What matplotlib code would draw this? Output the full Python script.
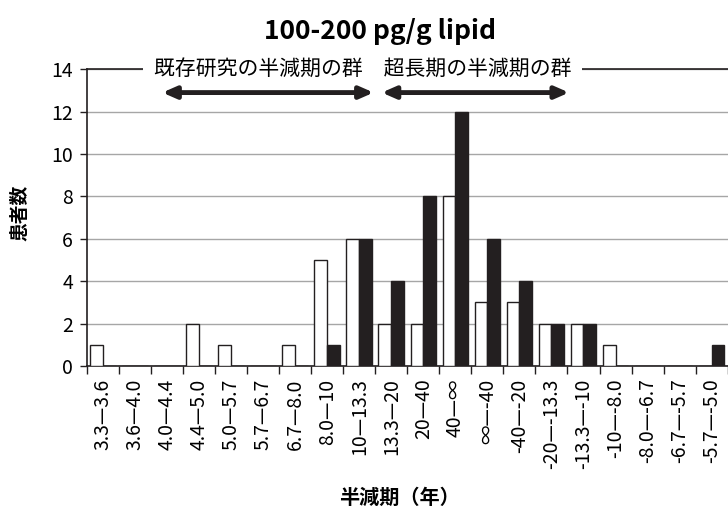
import matplotlib
matplotlib.use("Agg")
import matplotlib.pyplot as plt
import numpy as np

plt.rcParams['font.family'] = ['Noto Sans CJK JP', 'DejaVu Sans']

# half-life bins (years)
labels = ["3.3—3.6", "3.6—4.0", "4.0—4.4", "4.4—5.0", "5.0—5.7", "5.7—6.7",
          "6.7—8.0", "8.0—10", "10—13.3", "13.3—20", "20—40", "40—∞",
          "∞—-40", "-40—-20", "-20—-13.3", "-13.3—-10", "-10—-8.0",
          "-8.0—-6.7", "-6.7—-5.7", "-5.7—-5.0"]
white_counts = [1, 0, 0, 2, 1, 0, 1, 5, 6, 2, 2, 8, 3, 3, 2, 2, 1, 0, 0, 0]
black_counts = [0, 0, 0, 0, 0, 0, 0, 1, 6, 4, 8, 12, 6, 4, 2, 2, 0, 0, 0, 1]

fig = plt.figure(figsize=(7.28, 5.13), dpi=100)
ax = fig.add_axes([0.1195, 0.2865, 0.88, 0.5785])

x = np.arange(len(labels))
w = 0.4
ax.bar(x - w/2, white_counts, w, color="white", edgecolor="#231f20", linewidth=1.0, zorder=3)
ax.bar(x + w/2, black_counts, w, color="#231f20", edgecolor="#231f20", linewidth=1.0, zorder=3)

ax.set_xlim(-0.5, len(labels) - 0.5)
ax.set_ylim(0, 14)
ax.set_yticks(range(0, 15, 2))
ax.yaxis.grid(True, color="#a6a6a6", linewidth=1.0, zorder=0)
ax.set_axisbelow(True)

ax.set_xticks(x)
ax.set_xticklabels(labels, rotation=90, fontsize=14)
ax.set_xticks(np.arange(-0.5, len(labels), 1), minor=True)
ax.tick_params(axis="x", which="major", length=0, pad=9)
ax.tick_params(axis="x", which="minor", length=6, width=1.0, color="#231f20")
ax.tick_params(axis="y", labelsize=14, length=5, width=1.0, color="#231f20", pad=5)

for s in ["left", "bottom", "top"]:
    ax.spines[s].set_color("#231f20")
    ax.spines[s].set_linewidth(1.2)
ax.spines["right"].set_visible(False)

ax.text(8.1, 14, "既存研究の半減期の群\u3000超長期の半減期の群", fontsize=15,
        ha="center", va="center", zorder=5, clip_on=False,
        bbox=dict(facecolor="white", edgecolor="none", pad=8))

arrow = dict(arrowstyle="<|-|>,head_length=0.8,head_width=0.35", color="#231f20", lw=3.5,
             shrinkA=0, shrinkB=0)
ax.annotate("", xy=(1.85, 12.9), xytext=(8.45, 12.9), arrowprops=arrow,
            annotation_clip=False, zorder=6)
ax.annotate("", xy=(8.7, 12.9), xytext=(14.55, 12.9), arrowprops=arrow,
            annotation_clip=False, zorder=6)

fig.text(0.522, 0.938, "100-200 pg/g lipid", fontsize=19, fontweight="bold",
         ha="center", va="center")
fig.text(0.549, 0.031, "半減期（年）", fontsize=14.5, fontweight="bold",
         ha="center", va="center")
fig.text(0.028, 0.585, "患者数", fontsize=13.5, fontweight="bold",
         rotation=90, ha="center", va="center")

fig.savefig("out.png", dpi=100)
